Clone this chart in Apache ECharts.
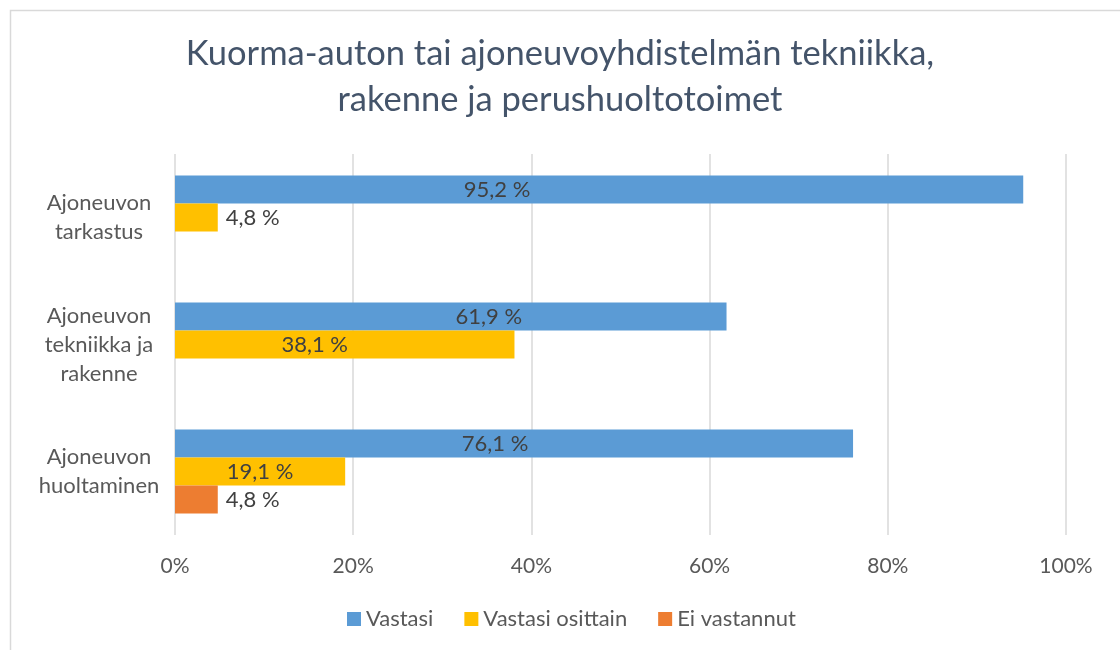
<!DOCTYPE html>
<html>
<head>
<meta charset="utf-8">
<script src="https://cdn.jsdelivr.net/npm/echarts@6/dist/echarts.min.js"></script>
<style>
  html, body { margin: 0; padding: 0; background: #fff; }
  #chart { width: 1120px; height: 650px; }
</style>
</head>
<body>
<div id="chart"></div>
<script>
const categories = ['Ajoneuvon\ntarkastus', 'Ajoneuvon\ntekniikka ja\nrakenne', 'Ajoneuvon\nhuoltaminen']
const seriesNames = ['Vastasi', 'Vastasi osittain', 'Ei vastannut']
const vastasi = [95.2, 61.9, 76.1]
const osittain = [4.8, 38.1, 19.1]
const eiVastannut = [null, null, 4.8]
const xTicks = [0, 20, 40, 60, 80, 100]

// label nudges (px) so the texts sit where the original has them
const shiftVastasi = [-102, 38, -19]
const shiftOsittain = [0, -30, 0]

const colors = ['#5b9bd5', '#ffc000', '#ed7d31']
const font = 'Lato, "Open Sans", sans-serif'

const fmt = v => v.toFixed(1).replace('.', ',') + ' %'

function makeData(values, shifts) {
  return values.map((v, i) => {
    if (v === null) return '-'
    const small = v < 10
    return {
      value: v,
      label: {
        position: small ? 'right' : 'inside',
        distance: 8,
        offset: [shifts ? shifts[i] : 0, 0]
      }
    }
  })
}

const myChart = echarts.init(document.getElementById('chart'))
myChart.setOption({
  animation: false,
  color: colors,
  title: {
    text: 'Kuorma-auton tai ajoneuvoyhdistelmän tekniikka,\nrakenne ja perushuoltotoimet',
    left: 'center',
    top: 26,
    textStyle: {
      color: '#44546a',
      fontFamily: font,
      fontWeight: 'normal',
      fontSize: 34.5,
      lineHeight: 46
    }
  },
  legend: {
    bottom: 15,
    left: 342,
    itemWidth: 14,
    itemHeight: 14,
    itemGap: 31,
    icon: 'rect',
    textStyle: { color: '#595959', fontSize: 22, fontFamily: font },
    data: seriesNames
  },
  grid: { left: 175, right: 54, top: 154, bottom: 115 },
  xAxis: {
    type: 'value',
    min: xTicks[0],
    max: xTicks[xTicks.length - 1],
    interval: 20,
    axisLine: { show: false },
    axisTick: { show: false },
    axisLabel: {
      color: '#595959',
      fontSize: 21,
      fontFamily: font,
      margin: 21,
      formatter: v => v + '%'
    },
    splitLine: { lineStyle: { color: '#d9d9d9', width: 1.5 } }
  },
  yAxis: {
    type: 'category',
    inverse: true,
    data: categories,
    axisLine: { show: false },
    axisTick: { show: false },
    axisLabel: {
      color: '#595959',
      fontSize: 22,
      fontFamily: font,
      lineHeight: 29,
      align: 'center',
      margin: 76
    }
  },
  series: [
    { name: seriesNames[0], data: makeData(vastasi, shiftVastasi) },
    { name: seriesNames[1], data: makeData(osittain, shiftOsittain) },
    { name: seriesNames[2], data: makeData(eiVastannut, null) }
  ].map(s => Object.assign({
    type: 'bar',
    barGap: '0%',
    barCategoryGap: '34%',
    label: {
      show: true,
      color: '#404040',
      fontSize: 22,
      fontFamily: font,
      formatter: p => fmt(p.value)
    }
  }, s)),
  graphic: [{
    type: 'rect',
    shape: { x: 10.5, y: 10.5, width: 1130, height: 660 },
    style: { fill: 'none', stroke: '#d9d9d9', lineWidth: 1.5 },
    silent: true
  }]
})
</script>
</body>
</html>
